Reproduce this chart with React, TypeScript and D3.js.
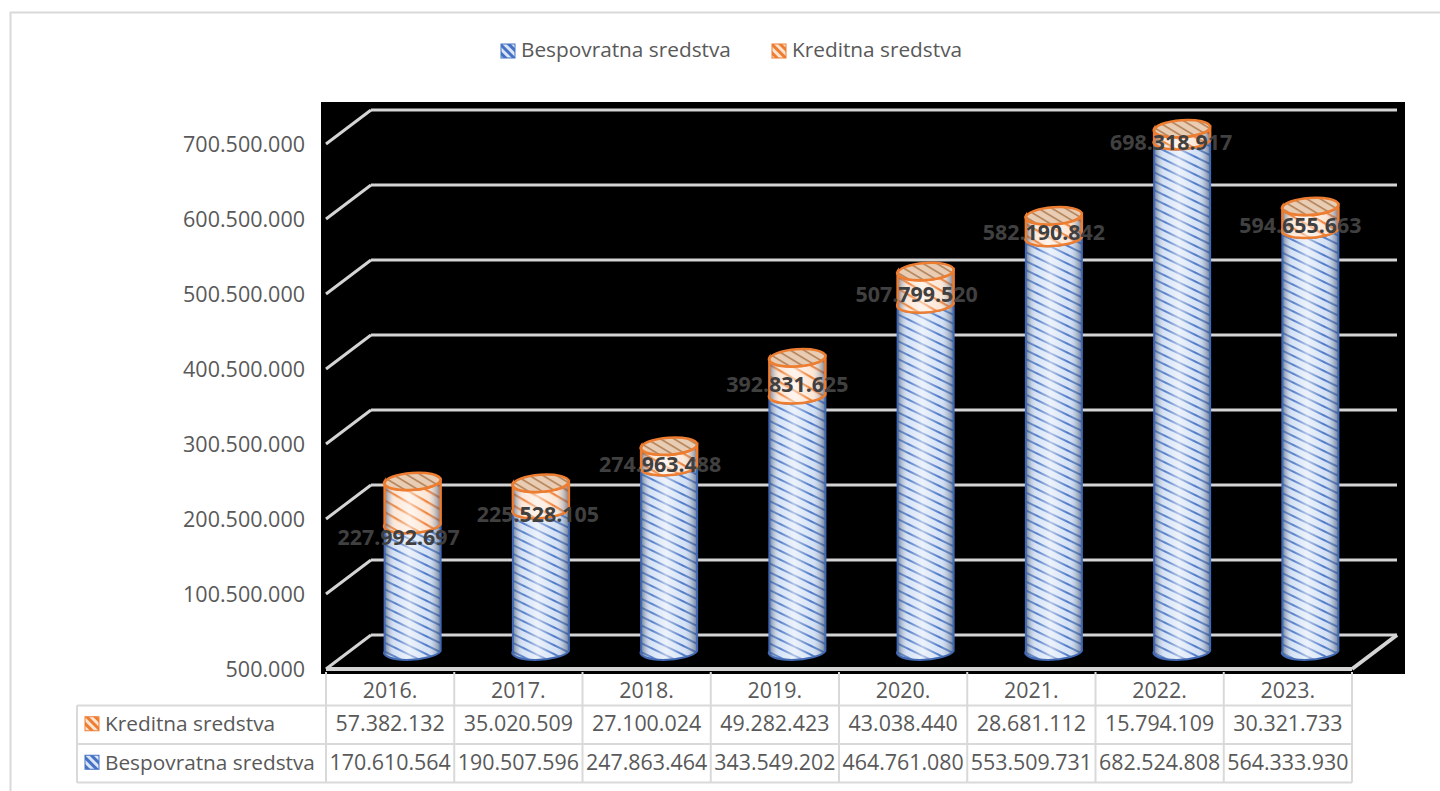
import React, { useEffect, useRef } from "react";
import * as d3 from "d3";

const years = ["2016.", "2017.", "2018.", "2019.", "2020.", "2021.", "2022.", "2023."];
const kreditna = [57382132, 35020509, 27100024, 49282423, 43038440, 28681112, 15794109, 30321733];
const bespovratna = [170610564, 190507596, 247863464, 343549202, 464761080, 553509731, 682524808, 564333930];
const totals = [227992697, 225528105, 274963488, 392831625, 507799520, 582190842, 698318917, 594655663];
const yTicks = [500000, 100500000, 200500000, 300500000, 400500000, 500500000, 600500000, 700500000];

const BLUE = "#4472c4";
const ORANGE = "#ed7d31";
const TEXT = "#595959";
const FONT = "'Open Sans', sans-serif";

// 1.234.567 style
const fmt = (v: number) => d3.format(",")(v).replace(/,/g, ".");

// data labels were dragged by hand in the original, offsets from the bar top
const labelDx = [-14, -3, -9, -10, -9, -10, -11, -10];
const labelDy = [13, 5, -2, -10, -9, -5, 2, -4];

const App = () => {
  const ref = useRef<SVGSVGElement>(null);

  useEffect(() => {
    const svg = d3.select(ref.current);
    svg.selectAll("*").remove();

    const depthX = 45;
    const depthY = 34;
    const left = 326;
    const right = 1352;
    const floor = 669;

    const x = d3.scaleBand().domain(years).range([left, right]);
    const y = d3.scaleLinear().domain([500000, 700500000]).range([floor, 144]);

    const defs = svg.append("defs");

    const stripes = (id: string, bg: string, fg: string, w: number, angle: number, gap: number) => {
      const p = defs
        .append("pattern")
        .attr("id", id)
        .attr("patternUnits", "userSpaceOnUse")
        .attr("width", gap)
        .attr("height", gap)
        .attr("patternTransform", `rotate(${angle})`);
      p.append("rect").attr("width", gap).attr("height", gap).attr("fill", bg);
      p.append("rect").attr("width", gap).attr("height", w).attr("fill", fg);
    };
    stripes("blueHatch", "#d3e1f6", BLUE, 2, 26, 8);
    stripes("orangeHatch", "#fde6d5", ORANGE, 2.2, 30, 10);
    stripes("orangeTop", "#e8cdb4", "#b98a62", 1.8, 35, 7);
    stripes("blueSwatch", "#dbe5f6", BLUE, 3, 45, 6);
    stripes("orangeSwatch", "#fce4d2", ORANGE, 3, 45, 6);

    const shade = defs.append("linearGradient").attr("id", "shade");
    [
      [0, "#2f4468", 0.7],
      [0.2, "#ffffff", 0.1],
      [0.45, "#ffffff", 0.6],
      [0.75, "#ffffff", 0.05],
      [1, "#2f4468", 0.65],
    ].forEach(([o, c, a]) => {
      shade.append("stop").attr("offset", o as number).attr("stop-color", c as string).attr("stop-opacity", a as number);
    });

    // outer frame, only top and left are in the picture
    svg
      .append("path")
      .attr("d", "M10.5,791 L10.5,12.5 L1440,12.5")
      .attr("fill", "none")
      .attr("stroke", "#d9d9d9")
      .attr("stroke-width", 2);

    // black plot background
    svg.append("rect").attr("x", 321).attr("y", 102).attr("width", 1084).attr("height", 572).attr("fill", "#000");

    const gridColor = "#d4d4d4";
    const grid = svg.append("g").attr("stroke", gridColor).attr("stroke-width", 3).attr("fill", "none");
    yTicks.forEach((t) => {
      const yy = y(t) - depthY;
      grid.append("line").attr("x1", left + depthX).attr("x2", right + depthX).attr("y1", yy).attr("y2", yy);
      grid.append("line").attr("x1", left).attr("x2", left + depthX).attr("y1", y(t)).attr("y2", yy);
    });
    // floor
    grid.append("line").attr("x1", left).attr("x2", right).attr("y1", floor).attr("y2", floor).attr("stroke-width", 4);
    grid
      .append("line")
      .attr("x1", right)
      .attr("x2", right + depthX)
      .attr("y1", floor)
      .attr("y2", floor - depthY)
      .attr("stroke-width", 4);

    // y axis labels
    svg
      .append("g")
      .selectAll("text")
      .data(yTicks)
      .join("text")
      .attr("x", 305)
      .attr("y", (d) => y(d))
      .attr("dy", "0.35em")
      .attr("text-anchor", "end")
      .attr("font-family", FONT)
      .attr("font-size", 21.5)
      .attr("fill", TEXT)
      .text((d) => fmt(d));

    // cylinders
    const rx = 28;
    const ry = 8.5;
    const tilt = -4;
    const ellipse = (g: any, cx: number, cy: number, fill: string, stroke: string) =>
      g
        .append("ellipse")
        .attr("cx", cx)
        .attr("cy", cy)
        .attr("rx", rx)
        .attr("ry", ry)
        .attr("transform", `rotate(${tilt} ${cx} ${cy})`)
        .attr("fill", fill)
        .attr("stroke", stroke)
        .attr("stroke-width", 2.5);

    const tube = (g: any, cx: number, y0: number, y1: number, fill: string, stroke: string, sw: number) => {
      const d = `M${cx - rx},${y1} L${cx - rx},${y0} A${rx},${ry} ${tilt} 0 0 ${cx + rx},${y0} L${cx + rx},${y1} A${rx},${ry} ${tilt} 0 1 ${cx - rx},${y1} Z`;
      g.append("path").attr("d", d).attr("fill", fill);
      g.append("path").attr("d", d).attr("fill", "url(#shade)").attr("stroke", stroke).attr("stroke-width", sw);
    };

    const bars = svg.append("g");
    years.forEach((yr, i) => {
      const cx = x(yr)! + x.bandwidth() / 2 + depthX / 2;
      const base = y(yTicks[0]) - depthY / 2 - 1;
      const b1 = y(bespovratna[i]) - depthY / 2;
      const b2 = y(bespovratna[i] + kreditna[i]) - depthY / 2;
      tube(bars, cx, b1, base, "url(#blueHatch)", "#4269b4", 2);
      tube(bars, cx, b2, b1, "url(#orangeHatch)", ORANGE, 2.5);
      ellipse(bars, cx, b2, "url(#orangeTop)", ORANGE);
    });

    // total labels
    svg
      .append("g")
      .selectAll("text")
      .data(totals)
      .join("text")
      .attr("x", (_, i) => x(years[i])! + x.bandwidth() / 2 + depthX / 2 + labelDx[i])
      .attr("y", (_, i) => y(bespovratna[i]) - depthY / 2 + labelDy[i])
      .attr("dy", "0.35em")
      .attr("text-anchor", "middle")
      .attr("font-family", FONT)
      .attr("font-size", 21.4)
      .attr("font-weight", 700)
      .attr("fill", "#404040")
      .text((d) => fmt(d));

    // data table
    const rows = [
      { name: "Kreditna sredstva", values: kreditna, swatch: "url(#orangeSwatch)", color: ORANGE },
      { name: "Bespovratna sredstva", values: bespovratna, swatch: "url(#blueSwatch)", color: BLUE },
    ];
    const tableLeft = 77;
    const rowTop = 705.5;
    const rowH = 38.5;
    const table = svg.append("g");
    const line = (x1: number, y1: number, x2: number, y2: number) =>
      table
        .append("line")
        .attr("x1", x1)
        .attr("y1", y1)
        .attr("x2", x2)
        .attr("y2", y2)
        .attr("stroke", "#d9d9d9")
        .attr("stroke-width", 2);
    [0, 1, 2].forEach((r) => line(tableLeft, rowTop + r * rowH, right, rowTop + r * rowH));
    line(tableLeft, rowTop, tableLeft, rowTop + 2 * rowH);
    d3.range(years.length + 1).forEach((c) => line(left + (c * (right - left)) / years.length, 672, left + (c * (right - left)) / years.length, rowTop + 2 * rowH));

    const textStyle = (s: any) => s.attr("font-family", FONT).attr("font-size", 21.4).attr("fill", TEXT).attr("dy", "0.35em");

    years.forEach((yr) => {
      table
        .append("text")
        .attr("x", x(yr)! + x.bandwidth() / 2)
        .attr("y", 691)
        .attr("text-anchor", "middle")
        .call(textStyle)
        .text(yr);
    });
    rows.forEach((r, ri) => {
      const cy = rowTop + ri * rowH + rowH / 2;
      table.append("rect").attr("x", 85).attr("y", cy - 8).attr("width", 14).attr("height", 14).attr("fill", r.swatch).attr("stroke", r.color);
      table.append("text").attr("x", 105).attr("y", cy - 1).call(textStyle).attr("font-size", 20.8).text(r.name);
      r.values.forEach((v, i) => {
        table
          .append("text")
          .attr("x", x(years[i])! + x.bandwidth() / 2)
          .attr("y", cy - 1)
          .attr("text-anchor", "middle")
          .call(textStyle)
          .text(fmt(v));
      });
    });

    // legend
    const legend = svg.append("g");
    [
      { name: "Bespovratna sredstva", lx: 501, swatch: "url(#blueSwatch)", color: BLUE },
      { name: "Kreditna sredstva", lx: 772, swatch: "url(#orangeSwatch)", color: ORANGE },
    ].forEach((l) => {
      legend.append("rect").attr("x", l.lx).attr("y", 44).attr("width", 14).attr("height", 14).attr("fill", l.swatch).attr("stroke", l.color);
      legend.append("text").attr("x", l.lx + 20).attr("y", 50).call(textStyle).attr("font-size", 20.8).text(l.name);
    });
  }, []);

  return <svg ref={ref} width={1440} height={791} style={{ position: "absolute", left: 0, top: 0 }}></svg>;
};

export default App;
